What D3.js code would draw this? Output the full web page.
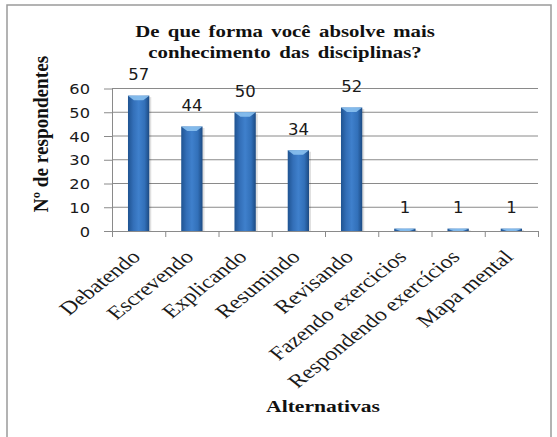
<!DOCTYPE html>
<html>
<head>
<meta charset="utf-8">
<script src="https://cdn.jsdelivr.net/npm/d3@7"></script>
<style>
  html, body { margin: 0; padding: 0; background: #fff; }
  svg { display: block; }
</style>
</head>
<body>
<div id="chart"></div>
<script>
// ---- data ----
const categories = ["Debatendo", "Escrevendo", "Explicando", "Resumindo", "Revisando",
  "Fazendo exercicios", "Respondendo exercícios", "Mapa mental"];
const values = [57, 44, 50, 34, 52, 1, 1, 1];
const yTicks = [0, 10, 20, 30, 40, 50, 60];
const titleLines = ["De que forma você absolve mais", "conhecimento  das disciplinas?"];
const yTitle = "Nº de respondentes";
const xTitle = "Alternativas";

// ---- layout ----
const W = 557, H = 437;
const plot = { left: 112, right: 538, top: 88.5, bottom: 231 };
const serif = "'Liberation Serif', 'Times New Roman', serif";
const sans = "'DejaVu Sans', Verdana, sans-serif";
const textColor = "#1a1a1a";

const svg = d3.select("#chart").append("svg")
  .attr("width", W).attr("height", H);

const defs = svg.append("defs");
const grad = defs.append("linearGradient").attr("id", "barGrad")
  .attr("x1", "0%").attr("x2", "100%").attr("y1", "0%").attr("y2", "0%");
[["0%", "#1f5391"], ["25%", "#336fb8"], ["50%", "#3f80cc"], ["78%", "#3270b9"], ["100%", "#1c4a82"]]
  .forEach(([o, c]) => grad.append("stop").attr("offset", o).attr("stop-color", c));

// frame
svg.append("rect")
  .attr("x", 7).attr("y", 5).attr("width", 544).attr("height", 460)
  .attr("fill", "none").attr("stroke", "#9a9a9a").attr("stroke-width", 1.5);

const y = d3.scaleLinear().domain([0, 60]).range([plot.bottom, plot.top]);
const x = d3.scaleBand().domain(categories).range([plot.left, plot.right])
  .paddingInner(0.6).paddingOuter(0.3);
const boundary = d3.scaleLinear().domain([0, categories.length]).range([plot.left, plot.right]);

// gridlines
svg.append("g").selectAll("line").data(yTicks.filter(d => d > 0)).join("line")
  .attr("x1", plot.left).attr("x2", plot.right)
  .attr("y1", d => y(d)).attr("y2", d => y(d))
  .attr("stroke", "#8a8a8a").attr("stroke-width", 1);

// y axis
const yAxis = svg.append("g").attr("transform", `translate(${plot.left},0)`)
  .call(d3.axisLeft(y).tickValues(yTicks).tickSize(8).tickSizeOuter(0).tickFormat(d3.format("d")));
yAxis.select(".domain").attr("stroke", "#8a8a8a");
yAxis.selectAll(".tick line").attr("stroke", "#8a8a8a");
yAxis.selectAll(".tick text")
  .attr("x", 0).attr("dy", "0.36em")
  .attr("transform", "translate(-22,0) scale(1.12,1)")
  .attr("font-family", sans).attr("font-size", 14.5).attr("fill", textColor);

// x axis (boundary ticks)
const xAxis = svg.append("g").attr("transform", `translate(0,${plot.bottom})`)
  .call(d3.axisBottom(boundary).tickValues(d3.range(categories.length + 1))
    .tickSize(6).tickSizeOuter(0).tickFormat(""));
xAxis.select(".domain").attr("stroke", "#8a8a8a");
xAxis.selectAll(".tick line").attr("stroke", "#8a8a8a");

// bars
const bars = svg.append("g");
const data = categories.map((c, i) => ({ c, v: values[i] }));
bars.selectAll("rect.shadow").data(data).join("rect").attr("class", "shadow")
  .attr("x", d => x(d.c) + 2).attr("y", d => y(d.v) + 1.5)
  .attr("width", x.bandwidth()).attr("height", d => y(0) - y(d.v) - 1.5)
  .attr("fill", "#000").attr("opacity", 0.12);
bars.selectAll("rect.bar").data(data).join("rect").attr("class", "bar")
  .attr("x", d => x(d.c)).attr("y", d => y(d.v))
  .attr("width", x.bandwidth()).attr("height", d => y(0) - y(d.v))
  .attr("fill", "url(#barGrad)");
bars.selectAll("path.cap").data(data).join("path").attr("class", "cap")
  .attr("d", d => {
    const x0 = x(d.c), w = x.bandwidth(), t = y(d.v);
    const h = Math.min(4.5, y(0) - t);
    return `M${x0},${t} L${x0 + w},${t} L${x0 + w * 0.72},${t + h} L${x0 + w * 0.28},${t + h} Z`;
  })
  .attr("fill", "#8fc6f2").attr("opacity", 0.85);

// value labels
svg.append("g").selectAll("text").data(data).join("text")
  .attr("transform", d => `translate(${x(d.c) + x.bandwidth() / 2},${y(d.v) - 15.5}) scale(1.1,1)`)
  .attr("text-anchor", "middle")
  .attr("font-family", sans).attr("font-size", 15).attr("fill", textColor)
  .text(d => d.v);

// category labels (rotated)
svg.append("g").selectAll("text").data(categories).join("text")
  .attr("transform", c => `translate(${x(c) + x.bandwidth() / 2 + 3},${plot.bottom + 27}) scale(1.25,1) rotate(-45)`)
  .attr("text-anchor", "end")
  .attr("font-family", serif).attr("font-size", 19).attr("fill", textColor)
  .text(c => c);

// title
svg.append("g").selectAll("text").data(titleLines).join("text")
  .attr("transform", (d, i) => `translate(285,${36.5 + i * 21}) scale(1.3,1)`)
  .attr("text-anchor", "middle")
  .attr("font-family", serif).attr("font-size", 16).attr("font-weight", "bold")
  .attr("word-spacing", 2.5)
  .attr("fill", "#111")
  .text(d => d);

// y title
svg.append("text")
  .attr("transform", "translate(48,134) rotate(-90) scale(1.2,1.3)")
  .attr("text-anchor", "middle")
  .attr("font-family", serif).attr("font-size", 16).attr("font-weight", "bold")
  .attr("fill", "#111")
  .text(yTitle);

// x title
svg.append("text")
  .attr("transform", "translate(323,412) scale(1.35,1)")
  .attr("text-anchor", "middle")
  .attr("font-family", serif).attr("font-size", 16).attr("font-weight", "bold")
  .attr("fill", "#111")
  .text(xTitle);
</script>
</body>
</html>
